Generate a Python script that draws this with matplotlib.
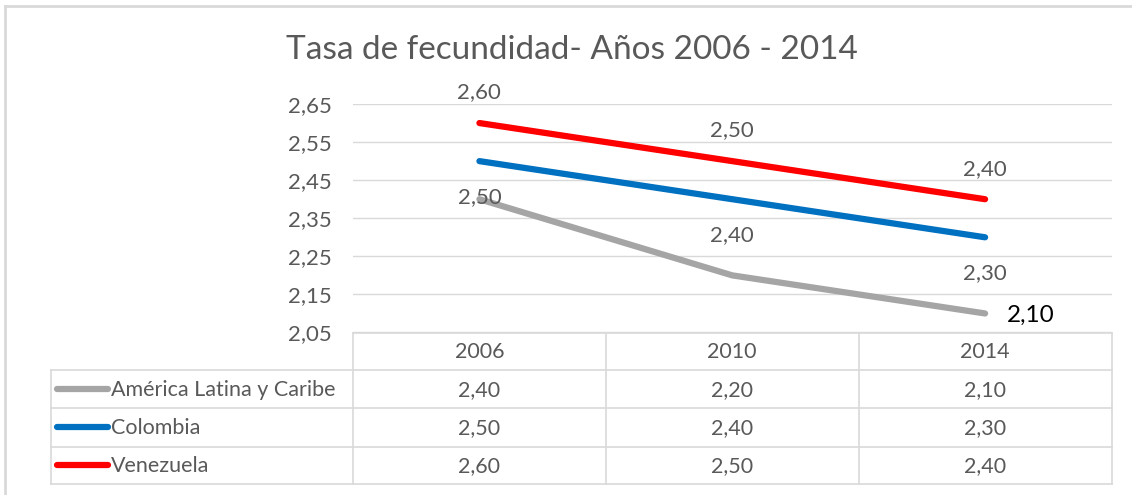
import matplotlib.pyplot as plt
from matplotlib.lines import Line2D

plt.rcParams['font.family'] = ['Lato', 'DejaVu Sans']

# data
years = ["2006", "2010", "2014"]
series_names = ["América Latina y Caribe", "Colombia", "Venezuela"]
america_latina = [2.40, 2.20, 2.10]
colombia = [2.50, 2.40, 2.30]
venezuela = [2.60, 2.50, 2.40]
yticks = [2.05, 2.15, 2.25, 2.35, 2.45, 2.55, 2.65]

series = [america_latina, colombia, venezuela]
colors = ['#A5A5A5', '#0070C0', '#FF0000']
txt = '#595959'
grid_c = '#D9D9D9'

W, H = 1132, 495
fig = plt.figure(figsize=(W / 100, H / 100), dpi=100)

def fx(px):
    return px / W

def fy(py):
    return 1 - py / H

def fmt(v):
    return f"{v:.2f}".replace('.', ',')

# outer frame (only left and top edges visible)
fig.add_artist(Line2D([fx(4.5), fx(4.5)], [fy(6), 0], color=grid_c, lw=2))
fig.add_artist(Line2D([fx(4.5), 1], [fy(6), fy(6)], color=grid_c, lw=2))

left, right, top, bottom = 353, 1111.5, 104, 332.5
ax = fig.add_axes([fx(left), fy(bottom), fx(right - left), (bottom - top) / H])
x = list(range(len(years)))
for vals, c in zip(series, colors):
    ax.plot(x, vals, color=c, lw=4.5, solid_capstyle='round', solid_joinstyle='round', zorder=3)

ax.set_xlim(-0.5, 2.5)
ax.set_ylim(2.05, 2.65)
ax.set_yticks(yticks)
ax.set_yticklabels([fmt(v) for v in yticks], color=txt, fontsize=16)
ax.tick_params(axis='y', length=0, pad=15)
ax.set_xticks([])
ax.grid(axis='y', color=grid_c, lw=1)
for s in ax.spines.values():
    s.set_visible(False)

# data labels
for i, v in enumerate(venezuela):
    ax.annotate(fmt(v), (i, v), xytext=(0, 22), textcoords='offset points',
                ha='center', va='center', color=txt, fontsize=16, zorder=4)
for i, v in enumerate(colombia):
    ax.annotate(fmt(v), (i, v), xytext=(0, -26), textcoords='offset points',
                ha='center', va='center', color=txt, fontsize=16, zorder=4)
ax.annotate(fmt(america_latina[-1]), (2, america_latina[-1]), xytext=(16, -1),
            textcoords='offset points', ha='left', va='center', color='black',
            fontsize=17.5, zorder=4)

fig.suptitle("Tasa de fecundidad- Años 2006 - 2014", x=fx(572), y=fy(50),
             va='center', ha='center', fontsize=24, color=txt)

# data table under the plot
tleft, tbottom = 50.5, 484.3
col_w = (right - left) / 3
rows_y = [332.5, 370, 408, 446.5, 484.3]
tax = fig.add_axes([0, 0, 1, 1])
tax.set_xlim(0, W)
tax.set_ylim(H, 0)
tax.axis('off')
lc = dict(color=grid_c, lw=1.2)
tax.plot([left, right], [rows_y[0]] * 2, **lc)
for yy in rows_y[1:]:
    tax.plot([tleft, right], [yy, yy], **lc)
for k in range(4):
    xx = left + k * col_w
    tax.plot([xx, xx], [rows_y[0], tbottom], **lc)
tax.plot([tleft, tleft], [rows_y[1], tbottom], **lc)

for k, yr in enumerate(years):
    tax.text(left + (k + 0.5) * col_w, (rows_y[0] + rows_y[1]) / 2 + 1, yr,
             ha='center', va='center', color=txt, fontsize=15.5)
for r, (name, vals, c) in enumerate(zip(series_names, series, colors)):
    yc = (rows_y[r + 1] + rows_y[r + 2]) / 2
    tax.plot([57, 108], [yc, yc], color=c, lw=4.5, solid_capstyle='round')
    tax.text(111, yc + 1, name, ha='left', va='center', color=txt, fontsize=15.5)
    for k, v in enumerate(vals):
        tax.text(left + (k + 0.5) * col_w, yc + 1, fmt(v), ha='center', va='center',
                 color=txt, fontsize=15.5)

fig.savefig('out.png', dpi=100)
